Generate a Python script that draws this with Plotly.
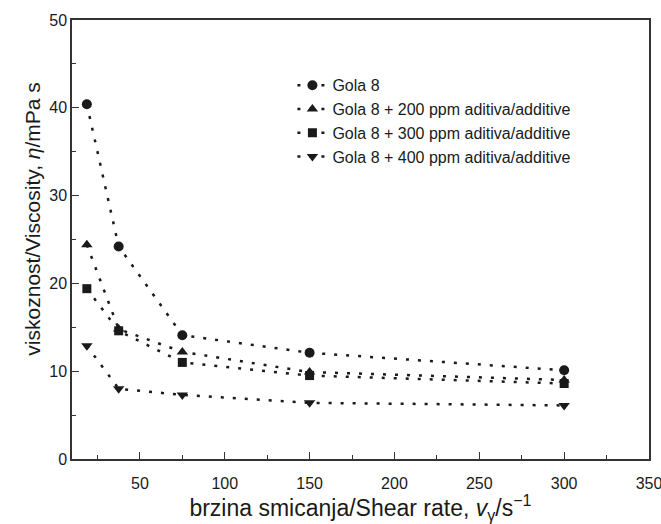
import plotly.graph_objects as go

shear_rate = [18.75, 37.5, 75, 150, 300]
gola8 = [40.4, 24.2, 14.1, 12.1, 10.1]
add200 = [24.4, 14.8, 12.2, 9.9, 9.0]
add300 = [19.4, 14.6, 11.0, 9.5, 8.6]
add400 = [12.9, 8.0, 7.3, 6.4, 6.1]

names = ["Gola 8",
         "Gola 8 + 200 ppm aditiva/additive",
         "Gola 8 + 300 ppm aditiva/additive",
         "Gola 8 + 400 ppm aditiva/additive"]
series = [gola8, add200, add300, add400]
symbols = ["circle", "triangle-up", "square", "triangle-down"]
sizes = [10, 10, 9, 10]

font = "Liberation Sans, Arial, sans-serif"
ink = "#1a1a1a"

fig = go.Figure()
for n, y, s, sz in zip(names, series, symbols, sizes):
    fig.add_trace(go.Scatter(
        x=shear_rate, y=y, name=n, mode="lines+markers",
        line=dict(color=ink, width=2.5, dash="3px,9px"),
        marker=dict(symbol=s, size=sz, color=ink),
    ))

axis_common = dict(
    showline=True, linecolor="#333", linewidth=1.5, mirror=True,
    ticks="inside", ticklen=7, tickwidth=1.2, tickcolor="#333",
    showgrid=False, zeroline=False, automargin=False,
    tickfont=dict(family=font, size=16, color=ink),
)
fig.update_xaxes(
    range=[10, 350], tick0=0, dtick=50, ticklabeloverflow="allow",
    ticklabelstandoff=9,
    minor=dict(dtick=25, ticks="inside", ticklen=4, tickcolor="#333", showgrid=False),
    title=dict(text="brzina smicanja/Shear rate, <i>v</i><sub>γ</sub>/s<sup>−1</sup>",
               font=dict(family=font, size=23, color=ink), standoff=16),
    **axis_common)
fig.update_yaxes(
    range=[0, 50], tick0=0, dtick=10,
    minor=dict(dtick=5, ticks="inside", ticklen=4, tickcolor="#333", showgrid=False),
    **axis_common)

# y-axis title (placed as in the reference, slightly above centre)
fig.add_annotation(
    text="viskoznost/Viscosity, <i>η</i>/mPa s", textangle=-90,
    xref="paper", yref="paper", x=-0.068, y=0.547,
    xanchor="center", yanchor="middle", showarrow=False,
    font=dict(family=font, size=21, color=ink))

fig.update_layout(
    width=661, height=524,
    margin=dict(l=72, r=12, t=20, b=65),
    paper_bgcolor="white", plot_bgcolor="white",
    font=dict(family=font, color=ink),
    showlegend=True,
    legend=dict(x=0.382, y=0.89, xanchor="left", yanchor="top",
                bgcolor="rgba(0,0,0,0)", font=dict(family=font, size=16, color=ink),
                tracegroupgap=0, itemwidth=30),
)
fig.write_html("out.html")
